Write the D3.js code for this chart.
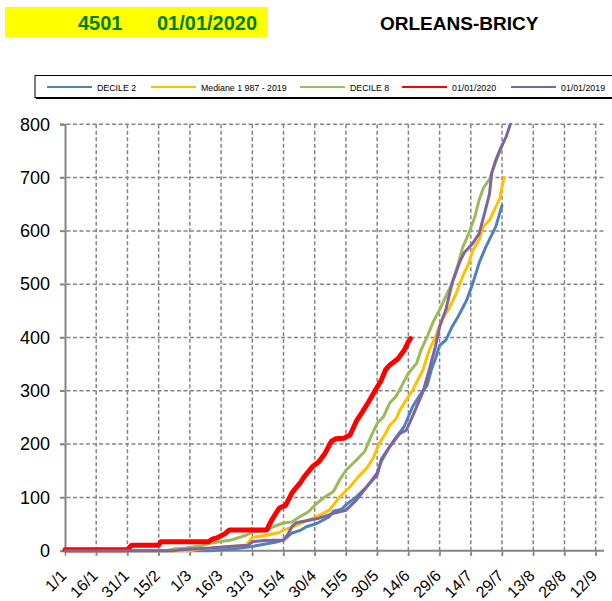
<!DOCTYPE html>
<html>
<head>
<meta charset="utf-8">
<script src="https://cdn.jsdelivr.net/npm/d3@7/dist/d3.min.js"></script>
<style>
  body { margin: 0; background: #fff; }
  svg { display: block; font-family: "Liberation Sans", Arial, sans-serif; }
</style>
</head>
<body>
<svg id="chart" width="612" height="601"></svg>
<script>
// ---- data (day index from 1 January, cumulative value) ----
const seriesNames = ["DECILE 2", "Mediane 1 987 -  2019", "DECILE 8", "01/01/2020", "01/01/2019"];
const seriesColors = ["#4F81BD", "#FFC000", "#9BBB59", "#FF0000", "#8064A2"];

const decile2 = [[0,0],[70,0],[75,2],[80,3],[90,8],[97,13],[101,16],[105,20],[109,33],[113,38],[116,45],[121,51],[127,64],[129,74],[133,78],[135,86],[140,101],[145,120],[147,130],[150,146],[152,168],[156,195],[159,212],[163,233],[167,270],[170,289],[174,310],[176,339],[178,360],[180,385],[183,395],[186,420],[189,440],[191,455],[193,470],[196,502],[199,540],[202,568],[207,608],[210,648]];
const mediane = [[0,0],[60,0],[65,3],[71,5],[79,8],[87,10],[90,25],[97,29],[103,34],[105,39],[108,42],[113,51],[121,64],[127,76],[132,101],[137,120],[141,139],[145,155],[148,173],[151,201],[154,220],[156,235],[159,247],[161,264],[164,283],[167,301],[172,339],[175,376],[178,401],[181,433],[185,458],[188,483],[191,514],[194,539],[196,564],[199,583],[201,608],[204,620],[207,645],[209,661],[210,683],[211,700]];
const decile8 = [[0,0],[48,0],[52,3],[58,5],[66,10],[71,15],[80,20],[87,29],[90,35],[97,38],[100,45],[105,52],[109,54],[113,64],[117,73],[121,89],[125,101],[129,111],[132,133],[135,151],[140,170],[144,186],[147,214],[150,239],[153,251],[156,277],[159,289],[162,311],[165,333],[169,352],[171,376],[174,401],[177,430],[180,452],[183,477],[186,502],[189,539],[191,568],[194,595],[197,627],[199,658],[201,680],[204,697],[207,730],[210,760]];
const year2020 = [[0,2],[30,2],[32,10],[45,10],[46,17],[69,17],[71,22],[73,24],[75,28],[77,32],[79,39],[97,39],[99,55],[101,68],[103,80],[106,85],[109,108],[111,118],[113,127],[115,139],[119,158],[122,167],[125,183],[128,205],[130,210],[134,211],[137,217],[140,243],[143,261],[146,280],[149,300],[152,320],[154,339],[156,348],[160,360],[163,376],[165,392],[166,398]];
const year2019 = [[0,0],[52,0],[56,2],[70,5],[79,8],[88,10],[90,17],[96,19],[105,20],[107,30],[109,45],[111,52],[113,54],[122,61],[129,70],[135,76],[140,95],[145,120],[150,142],[152,172],[156,195],[161,220],[164,226],[167,252],[172,298],[175,339],[178,383],[180,420],[183,452],[186,502],[190,545],[192,560],[196,577],[199,595],[202,639],[204,670],[205,708],[207,733],[209,752],[212,777],[214,800]];

const xTickDays = [0,15,30,45,60,75,90,105,120,135,150,165,180,195,210,225,240,255];
const xTickLabels = ["1/1","16/1","31/1","15/2","1/3","16/3","31/3","15/4","30/4","15/5","30/5","14/6","29/6","14/7","29/7","13/8","28/8","12/9"];
const yTicks = [0,100,200,300,400,500,600,700,800];

const headerCode = "4501";
const headerDate = "01/01/2020";
const stationName = "ORLEANS-BRICY";

// ---- drawing ----
const svg = d3.select("#chart");
const x = d3.scaleLinear().domain([0, 259]).range([65, 604]);
const y = d3.scaleLinear().domain([0, 800]).range([550.7, 124.3]);

// header
svg.append("rect").attr("x", 5).attr("y", 7).attr("width", 263).attr("height", 30).attr("fill", "#FFFF00");
svg.append("text").attr("x", 78).attr("y", 30).attr("font-size", 20).attr("font-weight", "bold").attr("fill", "#008000").text(headerCode);
svg.append("text").attr("x", 157).attr("y", 30).attr("font-size", 20).attr("font-weight", "bold").attr("fill", "#008000").text(headerDate);
svg.append("text").attr("x", 380).attr("y", 30).attr("font-size", 19).attr("font-weight", "bold").attr("fill", "#000").text(stationName);

// legend
const lg = svg.append("g");
lg.append("rect").attr("x", 36).attr("y", 77).attr("width", 590).attr("height", 22).attr("fill", "#000");
lg.append("rect").attr("x", 35).attr("y", 75.5).attr("width", 590).attr("height", 22).attr("fill", "#fff").attr("stroke", "#000").attr("stroke-width", 1);
const legendLineX = [47, 151, 300, 402, 511];
seriesNames.forEach((n, i) => {
  lg.append("line").attr("x1", legendLineX[i]).attr("x2", legendLineX[i] + 45).attr("y1", 87).attr("y2", 87)
    .attr("stroke", seriesColors[i]).attr("stroke-width", 2);
  lg.append("text").attr("x", legendLineX[i] + 50).attr("y", 90.5).attr("font-size", 8.8).attr("fill", "#000").text(n);
});

// grid
const grid = svg.append("g");
grid.selectAll("line.h").data(yTicks.filter(d => d > 0)).join("line")
  .attr("x1", 60).attr("x2", 604).attr("y1", d => y(d)).attr("y2", d => y(d))
  .attr("stroke", "#858585").attr("stroke-width", 1.5).attr("stroke-dasharray", "4,2.5");
grid.selectAll("line.v").data(xTickDays.filter(d => d > 0)).join("line")
  .attr("x1", d => x(d)).attr("x2", d => x(d)).attr("y1", y(800)).attr("y2", y(0) + 5)
  .attr("stroke", "#858585").attr("stroke-width", 1.5).attr("stroke-dasharray", "4,2.5");

// axes
const yAxis = d3.axisLeft(y).tickValues(yTicks).tickSize(5).tickFormat(d3.format("d"));
const gy = svg.append("g").attr("transform", `translate(${x(0)},0)`).call(yAxis);
gy.select(".domain").attr("stroke", "#858585").attr("stroke-width", 2);
gy.selectAll(".tick line").attr("stroke", "#858585").attr("stroke-width", 1.5);
gy.selectAll(".tick text").attr("font-size", 18).attr("fill", "#000").attr("x", -15).attr("font-family", "Liberation Sans, Arial, sans-serif");

const xAxis = d3.axisBottom(x).tickValues(xTickDays).tickSize(5).tickFormat((d, i) => xTickLabels[i]);
const gx = svg.append("g").attr("transform", `translate(0,${y(0)})`).call(xAxis);
gx.select(".domain").attr("stroke", "#858585").attr("stroke-width", 2).attr("d", `M${x(0)},0H604`);
gx.selectAll(".tick line").attr("stroke", "#858585").attr("stroke-width", 1.5);
gx.selectAll(".tick text").attr("font-size", 16).attr("fill", "#000")
  .attr("font-family", "Liberation Sans, Arial, sans-serif")
  .attr("text-anchor", "end").attr("y", 0).attr("dy", 0)
  .attr("transform", "translate(2,26) rotate(-45)");

// lines
const line = d3.line().x(d => x(d[0])).y(d => y(d[1]));
const allSeries = [decile2, mediane, decile8, year2020, year2019];
const widths = [3, 3, 3, 5, 3];
[0, 1, 2, 3, 4].forEach(i => {
  svg.append("path").datum(allSeries[i]).attr("d", line)
    .attr("fill", "none").attr("stroke", seriesColors[i]).attr("stroke-width", widths[i])
    .attr("stroke-linejoin", "round").attr("stroke-linecap", "round");
});
</script>
</body>
</html>
